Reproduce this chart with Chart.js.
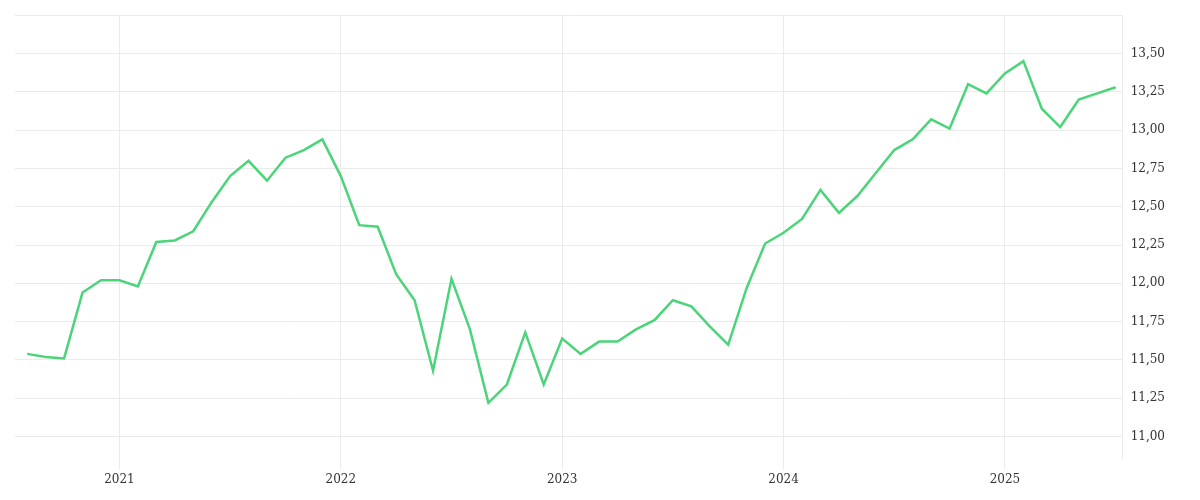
<!DOCTYPE html>
<html><head><meta charset="utf-8">
<script src="https://cdn.jsdelivr.net/npm/chart.js@4"></script>
<style>html,body{margin:0;padding:0;background:#fff}#w{width:1200px;height:500px}</style>
</head><body><div id="w"><canvas id="c"></canvas></div>
<script>
const startYear = 2020, startMonth = 8;
const values = [11.54,11.52,11.51,11.94,12.02,12.02,11.98,12.27,12.28,12.34,12.53,12.70,12.80,12.67,12.82,12.87,12.94,
12.70,12.38,12.37,12.06,11.89,11.43,12.03,11.70,11.22,11.34,11.68,11.34,
11.64,11.54,11.62,11.62,11.70,11.76,11.89,11.85,11.72,11.60,11.97,12.26,
12.33,12.42,12.61,12.46,12.57,12.72,12.87,12.94,13.07,13.01,13.30,13.24,
13.37,13.45,13.14,13.02,13.20,13.24,13.28];
const yearLabels = ["2021","2022","2023","2024","2025"];
const yearIdx = [5,17,29,41,53];
const pts = values.map((v,i)=>({x:i,y:v}));
const font = {family:"DejaVu Serif", size:12};
new Chart(document.getElementById('c'),{
 type:'line',
 data:{datasets:[{data:pts,borderColor:'#4cd47a',borderWidth:2.5,pointRadius:0,tension:0,fill:false}]},
 options:{responsive:true,maintainAspectRatio:false,animation:false,
  layout:{padding:{left:15,top:13,right:27,bottom:10}},
  plugins:{legend:{display:false},tooltip:{enabled:false}},
  scales:{
   x:{type:'linear',min:-0.66,max:59.38,
     afterBuildTicks:a=>{a.ticks=yearIdx.map(v=>({value:v}));},
     ticks:{font,color:'#333',autoSkip:false,maxRotation:0,callback:v=>{const k=yearIdx.indexOf(v);return k>=0?yearLabels[k]:'';}},
     grid:{color:'#ebebeb',tickLength:10},border:{display:false}},
   y:{position:'right',min:10.85,max:13.75,
     afterBuildTicks:a=>{const t=[];for(let v=11;v<=13.75001;v+=0.25)t.push({value:+v.toFixed(2)});a.ticks=t;},
     ticks:{font,color:'#333',padding:8,callback:v=>v>=13.74?'':v.toFixed(2).replace('.',',')},
     grid:{color:'#ebebeb',tickLength:0},border:{display:true,color:'#ebebeb'}}
  }}
});
</script></body></html>
